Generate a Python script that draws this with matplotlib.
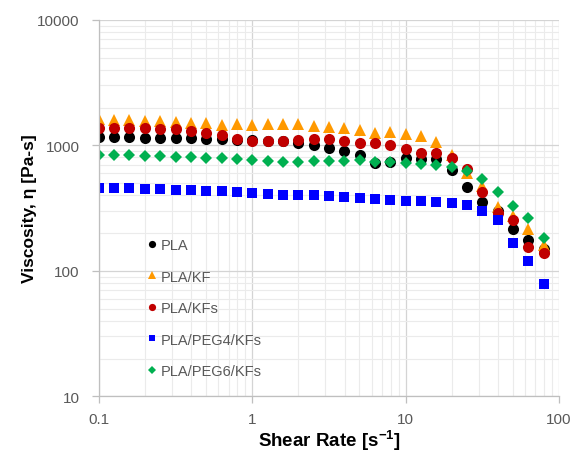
import numpy as np
import matplotlib
matplotlib.use('Agg')
import matplotlib.pyplot as plt
from matplotlib.ticker import LogLocator, FixedLocator, FixedFormatter, NullFormatter

plt.rcParams['font.family'] = ['Liberation Sans', 'DejaVu Sans']
plt.rcParams['mathtext.fontset'] = 'custom'
plt.rcParams['mathtext.rm'] = 'Liberation Sans'
plt.rcParams['mathtext.bf'] = 'Liberation Sans:bold'

# shear rate [1/s]
shear_rate = [0.1, 0.126, 0.158, 0.2, 0.251, 0.316, 0.398, 0.501, 0.631, 0.794,
              1.0, 1.26, 1.58, 2.0, 2.51, 3.16, 3.98, 5.01, 6.31, 7.94,
              10.0, 12.6, 15.8, 20.0, 25.1, 31.6, 39.8, 50.1, 63.1, 79.4]

# viscosity [Pa-s]
pla = [1165, 1165, 1165, 1150, 1140, 1140, 1140, 1130, 1120, 1110,
       1100, 1090, 1080, 1050, 1005, 960, 900, 830, 718, 730,
       798, 774, 774, 635, 466, 356, 300, 217, 176, 150]
pla_kf = [1610, 1600, 1590, 1570, 1550, 1530, 1510, 1497, 1451, 1470,
          1451, 1488, 1470, 1470, 1424, 1409, 1366, 1316, 1262, 1285,
          1239, 1186, 1060, 840, 600, 470, 325, 275, 214, 160]
pla_kfs = [1383, 1383, 1383, 1366, 1357, 1341, 1300, 1262, 1201, 1130,
           1082, 1082, 1082, 1096, 1116, 1116, 1082, 1050, 1050, 1006,
           940, 875, 864, 798, 644, 427, 290, 255, 155, 138]
pla_peg4_kfs = [461, 460, 455, 452, 446, 441, 438, 432, 430, 425,
                415, 412, 405, 402, 400, 395, 388, 379, 372, 367,
                360, 360, 356, 350, 335, 300, 255, 168, 119, 79]
pla_peg6_kfs = [833, 833, 833, 822, 822, 813, 807, 798, 788, 774,
                764, 750, 742, 737, 746, 750, 750, 760, 742, 742,
                719, 715, 697, 672, 624, 543, 428, 329, 263, 184]

series = [
    ('PLA', pla, 'o', 8.0, '#000000'),
    ('PLA/KF', pla_kf, '^', 8.0, '#FF9900'),
    ('PLA/KFs', pla_kfs, 'o', 8.0, '#C00000'),
    ('PLA/PEG4/KFs', pla_peg4_kfs, 's', 7.2, '#0000FF'),
    ('PLA/PEG6/KFs', pla_peg6_kfs, 'D', 6.2, '#00B050'),
]

fig = plt.figure(figsize=(5.83, 4.52), dpi=100)
ax = fig.add_axes([0.1698, 0.121, 0.789, 0.833])

for label, vals, mk, ms, col in series:
    ax.plot(shear_rate, vals, linestyle='none', marker=mk, markersize=ms,
            color=col, markeredgewidth=0, label=label)

ax.set_xscale('log')
ax.set_yscale('log')
ax.set_xlim(0.1, 100)
ax.set_ylim(10, 10000)

ax.xaxis.set_major_locator(FixedLocator([0.1, 1, 10, 100]))
ax.xaxis.set_major_formatter(FixedFormatter(['0.1', '1', '10', '100']))
ax.yaxis.set_major_locator(FixedLocator([10, 100, 1000, 10000]))
ax.yaxis.set_major_formatter(FixedFormatter(['10', '100', '1000', '10000']))
for axis in (ax.xaxis, ax.yaxis):
    axis.set_minor_locator(LogLocator(base=10, subs=np.arange(2, 10), numticks=20))
    axis.set_minor_formatter(NullFormatter())

ax.grid(which='major', color='#d4d4d4', linewidth=0.9)
ax.grid(which='minor', color='#ebebeb', linewidth=0.8)
ax.set_axisbelow(True)

for s in ('top', 'right'):
    ax.spines[s].set_visible(False)
for s in ('left', 'bottom'):
    ax.spines[s].set_color('#bfbfbf')
    ax.spines[s].set_linewidth(0.9)

ax.tick_params(which='major', direction='out', length=5, width=0.9,
               color='#bfbfbf', labelcolor='#595959', labelsize=11)
ax.tick_params(axis='x', which='major', pad=6)
ax.tick_params(axis='y', which='major', pad=9)
ax.tick_params(which='minor', length=0)

ax.set_xlabel(r'Shear Rate [s$^{\mathbf{-1}}$]', fontsize=13.5,
              fontweight='bold', labelpad=1)
ax.set_ylabel('Viscosity, η [Pa-s]', fontsize=12.5, fontweight='bold',
              labelpad=0)

leg = ax.legend(loc='center left', bbox_to_anchor=(0.105, 0.2345),
                frameon=False, fontsize=10.5, markerscale=0.65,
                handlelength=0.7, handletextpad=0.25, labelspacing=1.2,
                borderpad=0, borderaxespad=0)
for t in leg.get_texts():
    t.set_color('#595959')

fig.savefig('out.png', dpi=100)
